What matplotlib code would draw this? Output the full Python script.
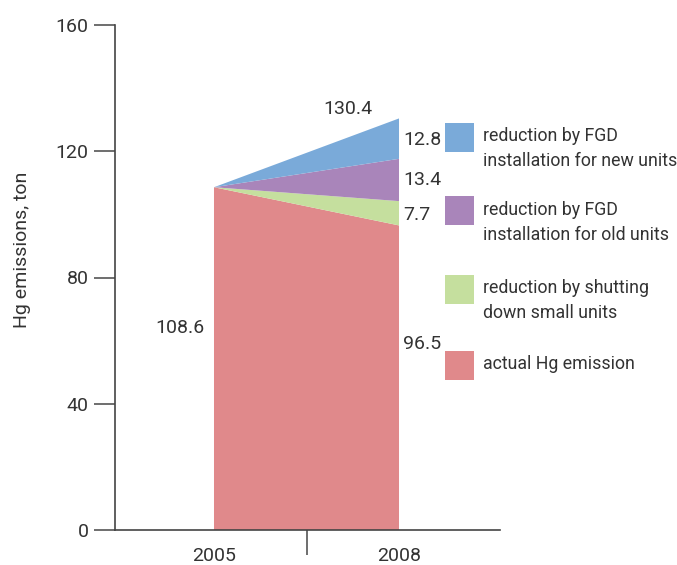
import matplotlib
matplotlib.use("Agg")
import matplotlib.pyplot as plt
from matplotlib.patches import Rectangle

years = [2005, 2008]
actual = [108.6, 96.5]
shutting = [0.0, 7.7]
fgd_old = [0.0, 13.4]
fgd_new = [0.0, 12.8]
series_labels = ["actual Hg emission", "reduction by shutting\ndown small units",
                 "reduction by FGD\ninstallation for old units",
                 "reduction by FGD\ninstallation for new units"]
colors = ["#E0898B", "#C5DF9E", "#A985BA", "#7AAAD9"]
yticks = [0, 40, 80, 120, 160]

plt.rcParams['font.family'] = ['Roboto', 'DejaVu Sans']
tc = "#333333"

fig = plt.figure(figsize=(6.77, 5.65), dpi=100)
ax = fig.add_axes([115/677, 1-530/565, 385/677, 505/565])

ax.stackplot(years, actual, shutting, fgd_old, fgd_new, colors=colors, linewidth=0)

ax.set_xlim(2005 - 99/61.67, 2008 + 101/61.67)
ax.set_ylim(0, 160)
ax.set_yticks(yticks)
ax.set_yticklabels([str(v) for v in yticks], fontsize=14, color=tc)
ax.set_xticks([2006.5])
ax.set_xticklabels([""])
ax.tick_params(axis='y', length=15, width=1.2, color="#555555", pad=4)
ax.tick_params(axis='x', length=18, width=1.2, color="#555555")
for s in ["top", "right"]:
    ax.spines[s].set_visible(False)
for s in ["left", "bottom"]:
    ax.spines[s].set_color("#444444")
    ax.spines[s].set_linewidth(1.2)

for yr in years:
    ax.text(yr, -8.3, str(yr), ha="center", va="center", fontsize=14, color=tc)

tot = [a + b + c + d for a, b, c, d in zip(actual, shutting, fgd_old, fgd_new)]
ax.text(2007.17, tot[1] + 3, f"{tot[1]:.1f}", ha="center", va="center", fontsize=14, color=tc)
ax.text(2004.85, 64, f"{actual[0]:.1f}", ha="right", va="center", fontsize=14, color=tc)
ax.text(2008.07, 59, f"{actual[1]:.1f}", ha="left", va="center", fontsize=14, color=tc)
b1 = actual[1]
b2 = b1 + shutting[1]
b3 = b2 + fgd_old[1]
ax.text(2008.07, (b1 + b2) / 2 - 0.6, f"{shutting[1]:.1f}", ha="left", va="center", fontsize=14, color=tc)
ax.text(2008.07, (b2 + b3) / 2, f"{fgd_old[1]:.1f}", ha="left", va="center", fontsize=14, color=tc)
ax.text(2008.07, (b3 + tot[1]) / 2 - 0.4, f"{fgd_new[1]:.1f}", ha="left", va="center", fontsize=14, color=tc)

fig.text(22/677, 1-250/565, "Hg emissions, ton", rotation=90, ha="center", va="center",
         fontsize=14, color=tc)

# legend (top to bottom)
centers = [137, 211, 289, 365]
for lab, col, cy in zip(series_labels[::-1], colors[::-1], centers):
    fig.patches.append(Rectangle((445/677, 1-(cy+14.5)/565), 29/677, 29/565,
                                 transform=fig.transFigure, color=col, lw=0))
    for i, line in enumerate(lab.split("\n")):
        fig.text(483/677, 1-(cy - 1 + i*25)/565, line, ha="left", va="center",
                 fontsize=12.8, color=tc)

fig.savefig("out.png", dpi=100)
